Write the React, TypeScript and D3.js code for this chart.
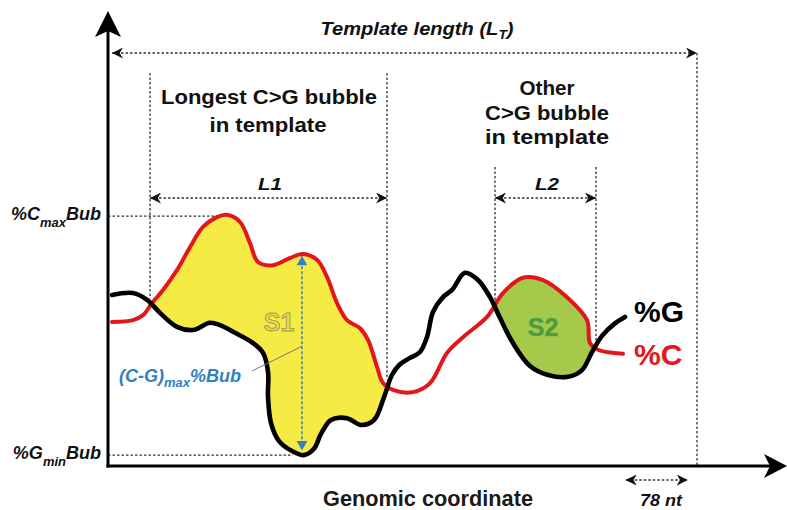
import * as d3 from 'd3';

// genomic coordinate (nt) and base content (%)
const templateRange = [0, 760];
const percentRange = [0, 100];

const cCoord = [0, 27.3, 40.3, 52.0, 66.3, 84.4, 101.3, 118.2, 136.4, 149.4, 166.3, 179.3, 189.7, 209.2, 231.2, 248.1, 266.3, 279.3, 292.3, 305.3, 322.2, 332.6, 344.3, 352.1, 365.0, 391.0, 413.1, 435.2, 456.0, 487.2, 507.9, 533.9, 559.9, 591.1, 617.1, 621.0, 631.4, 663.8];
const cPercent = [31.8, 32.2, 33.3, 36.0, 38.9, 43.3, 48.4, 52.9, 55.1, 55.6, 54.0, 49.3, 45.1, 44.4, 46.0, 46.9, 45.6, 41.8, 36.0, 32.2, 30.4, 27.8, 21.8, 18.2, 16.7, 16.2, 18.2, 24.9, 28.4, 32.9, 38.2, 41.6, 41.1, 37.3, 32.2, 27.1, 25.6, 24.7];

const gCoord = [0, 27.3, 45.5, 62.4, 84.4, 105.2, 127.3, 140.3, 157.2, 183.2, 196.2, 202.7, 202.7, 206.6, 217.0, 233.8, 249.4, 262.4, 271.5, 284.5, 305.3, 323.5, 340.4, 353.4, 363.7, 374.1, 387.1, 400.1, 409.2, 417.0, 430.0, 441.7, 458.6, 475.5, 491.1, 504.0, 520.9, 543.0, 566.4, 592.4, 610.6, 623.6, 636.6, 652.2, 666.4];
const gPercent = [37.8, 38.2, 36.7, 33.8, 30.7, 30.0, 31.6, 31.1, 29.6, 27.1, 24.9, 20.7, 15.1, 9.3, 5.3, 3.1, 2.2, 3.6, 6.9, 10.0, 10.4, 8.9, 10.0, 15.1, 20.0, 22.4, 23.8, 25.1, 28.4, 34.0, 37.3, 38.9, 42.7, 41.1, 37.3, 32.7, 27.1, 22.0, 20.0, 19.6, 21.1, 25.1, 28.7, 31.3, 32.9];

const bubble1 = [49.4, 357.3];
const bubble1Floor = [37, 19];
const bubble2 = [497.6, 628.8];
const bubble2Floor = [35, 27.5];
const bubbleSplit = 450;
const cMaxBub = 55.3;
const cMaxAt = 145;
const gMinBub = 2.2;
const gMinAt = 235;
const diffAt = 246.8;
const diffSpan = [46.4, 3.3];
const scaleBar = [670, 748]; // 78 nt

const W = 787;
const H = 510;
const AX_X = 108;
const AX_Y = 466;

const RED = '#e3161b';
const YELLOW = '#f6eb45';
const GREEN = '#a4c94b';
const BLUE = '#2f80c4';
const FONT = '"Liberation Sans", Arial, sans-serif';

export default function App() {
  const x = d3.scaleLinear().domain(templateRange).range([112, 697]);
  const y = d3.scaleLinear().domain(percentRange).range([465, 15]);

  const cPts: [number, number][] = cCoord.map((c, i) => [c, cPercent[i]]);
  const gPts: [number, number][] = gCoord.map((c, i) => [c, gPercent[i]]);

  const curve = d3.curveCatmullRom.alpha(0.5);
  const line = d3.line<[number, number]>().x(d => x(d[0])).y(d => y(d[1])).curve(curve);
  const belowRed = d3.area<[number, number]>().x(d => x(d[0])).y0(AX_Y).y1(d => y(d[1])).curve(curve);
  const aboveBlack = d3.area<[number, number]>().x(d => x(d[0])).y0(0).y1(d => y(d[1])).curve(curve);

  const dash = { stroke: '#333', strokeWidth: 1.3, strokeDasharray: '2.5 2', fill: 'none' };
  const ttl = { fontFamily: FONT, fontWeight: 'bold' as const, fontSize: 20, fill: '#111', textAnchor: 'middle' as const };

  return (
    <svg width={W} height={H} style={{ position: 'absolute', left: 0, top: 0, background: '#fff' }}>
      <defs>
        <marker id="ah" viewBox="0 0 10 10" refX="10" refY="5" markerWidth="11" markerHeight="11"
          markerUnits="userSpaceOnUse" orient="auto-start-reverse">
          <path d="M0,0 L10,5 L0,10 L3,5 Z" fill="#111" />
        </marker>
        <marker id="ahb" viewBox="0 0 10 12" refX="10" refY="6" markerWidth="11" markerHeight="11"
          markerUnits="userSpaceOnUse" orient="auto-start-reverse">
          <path d="M0,0 L10,6 L0,12 Z" fill={BLUE} />
        </marker>
        <clipPath id="blackAbove"><path d={aboveBlack(gPts) || ''} /></clipPath>
        <clipPath id="half1"><rect x={0} y={0} width={x(bubbleSplit)} height={H} /></clipPath>
        <clipPath id="half2"><rect x={x(bubbleSplit)} y={0} width={W} height={H} /></clipPath>
      </defs>

      {/* bubbles: below %C and above %G */}
      <g clipPath="url(#blackAbove)">
        <path d={belowRed(cPts) || ''} fill={YELLOW} clipPath="url(#half1)" />
        <path d={belowRed(cPts) || ''} fill={GREEN} clipPath="url(#half2)" />
      </g>

      {/* dotted guides */}
      <line x1={x(templateRange[1])} x2={x(templateRange[1])} y1={53} y2={AX_Y} {...dash} />
      <line x1={x(templateRange[0])} x2={x(templateRange[1])} y1={53} y2={53} {...dash} markerStart="url(#ah)" markerEnd="url(#ah)" />
      <line x1={x(bubble1[0])} x2={x(bubble1[0])} y1={73} y2={y(bubble1Floor[0])} {...dash} />
      <line x1={x(bubble1[1])} x2={x(bubble1[1])} y1={73} y2={y(bubble1Floor[1])} {...dash} />
      <line x1={x(bubble1[0])} x2={x(bubble1[1])} y1={198} y2={198} {...dash} markerStart="url(#ah)" markerEnd="url(#ah)" />
      <line x1={x(bubble2[0])} x2={x(bubble2[0])} y1={167} y2={y(bubble2Floor[0])} {...dash} />
      <line x1={x(bubble2[1])} x2={x(bubble2[1])} y1={167} y2={y(bubble2Floor[1])} {...dash} />
      <line x1={x(bubble2[0])} x2={x(bubble2[1])} y1={198} y2={198} {...dash} markerStart="url(#ah)" markerEnd="url(#ah)" />
      <line x1={AX_X} x2={x(cMaxAt)} y1={y(cMaxBub)} y2={y(cMaxBub)} {...dash} />
      <line x1={AX_X} x2={x(gMinAt)} y1={y(gMinBub)} y2={y(gMinBub)} {...dash} />
      <line x1={x(scaleBar[0]) - 2} x2={x(scaleBar[1])} y1={480} y2={480} {...dash} markerStart="url(#ah)" markerEnd="url(#ah)" />

      {/* curves */}
      <path d={line(cPts) || ''} fill="none" stroke={RED} strokeWidth={4} strokeLinejoin="round" strokeLinecap="round" />
      <path d={line(gPts) || ''} fill="none" stroke="#000" strokeWidth={4.6} strokeLinejoin="round" strokeLinecap="round" />

      {/* (C-G)max arrow */}
      <line x1={x(diffAt)} x2={x(diffAt)} y1={y(diffSpan[0])} y2={y(diffSpan[1])} stroke={BLUE} strokeWidth={1.5}
        strokeDasharray="3 2" markerStart="url(#ahb)" markerEnd="url(#ahb)" />
      <line x1={252} y1={371} x2={x(diffAt)} y2={y(26.4)} stroke="#777" strokeWidth={1} />

      {/* axes */}
      <line x1={AX_X} x2={AX_X} y1={30} y2={AX_Y + 1.5} stroke="#000" strokeWidth={3} />
      <line x1={AX_X - 1.5} x2={772} y1={AX_Y} y2={AX_Y} stroke="#000" strokeWidth={3} />
      <path d={`M${AX_X},11 L${AX_X + 13},37 L${AX_X},31 L${AX_X - 13},37 Z`} fill="#000" />
      <path d={`M787,${AX_Y} L764,${AX_Y - 12} L770,${AX_Y} L764,${AX_Y + 12} Z`} fill="#000" />

      {/* labels */}
      <text x={417} y={35} {...ttl} fontSize={19} fontStyle="italic" textLength={193} lengthAdjust="spacingAndGlyphs">
        Template length (L<tspan fontSize={13} dy={4}>T</tspan><tspan dy={-4}>)</tspan>
      </text>
      <text x={269} y={104} {...ttl} textLength={216} lengthAdjust="spacingAndGlyphs">Longest C&gt;G bubble</text>
      <text x={268} y={132} {...ttl} textLength={117} lengthAdjust="spacingAndGlyphs">in template</text>
      <text x={547} y={95} {...ttl} textLength={55} lengthAdjust="spacingAndGlyphs">Other</text>
      <text x={547} y={120} {...ttl} textLength={124} lengthAdjust="spacingAndGlyphs">C&gt;G bubble</text>
      <text x={547} y={144} {...ttl} textLength={124} lengthAdjust="spacingAndGlyphs">in template</text>
      <text x={270} y={190} {...ttl} fontSize={16} fontStyle="italic" textLength={24} lengthAdjust="spacingAndGlyphs">L1</text>
      <text x={547} y={190} {...ttl} fontSize={16} fontStyle="italic" textLength={24} lengthAdjust="spacingAndGlyphs">L2</text>

      <text x={101} y={y(cMaxBub) + 4} fontFamily={FONT} fontWeight="bold" fontStyle="italic" fontSize={18} fill="#111" textAnchor="end">
        %C<tspan fontSize={13} dy={7}>max</tspan><tspan dy={-7}>Bub</tspan>
      </text>
      <text x={101} y={y(gMinBub) + 4} fontFamily={FONT} fontWeight="bold" fontStyle="italic" fontSize={18} fill="#111" textAnchor="end">
        %G<tspan fontSize={13} dy={7}>min</tspan><tspan dy={-7}>Bub</tspan>
      </text>
      <text x={119} y={382} fontFamily={FONT} fontWeight="bold" fontStyle="italic" fontSize={18} fill={BLUE}>
        (C-G)<tspan fontSize={13} dy={5}>max</tspan><tspan dy={-5}>%Bub</tspan>
      </text>

      <text x={279} y={331} fontFamily={FONT} fontWeight="bold" fontSize={25} fill="#ebdd4e" stroke="#a09648" strokeWidth={0.9} textAnchor="middle">S1</text>
      <text x={543} y={336} fontFamily={FONT} fontWeight="bold" fontSize={25} fill="#4d9a3e" stroke="#5fa84a" strokeWidth={0.6} textAnchor="middle">S2</text>

      <text x={634} y={322} fontFamily={FONT} fontWeight="bold" fontSize={30} fill="#000">%G</text>
      <text x={634} y={365} fontFamily={FONT} fontWeight="bold" fontSize={30} fill={RED}>%C</text>

      <text x={428} y={506} {...ttl} fontSize={22} fill="#1a1a1a" textLength={210} lengthAdjust="spacingAndGlyphs">Genomic coordinate</text>
      <text x={661} y={506} {...ttl} fontSize={17} fontStyle="italic" textLength={42} lengthAdjust="spacingAndGlyphs">78 nt</text>
    </svg>
  );
}
